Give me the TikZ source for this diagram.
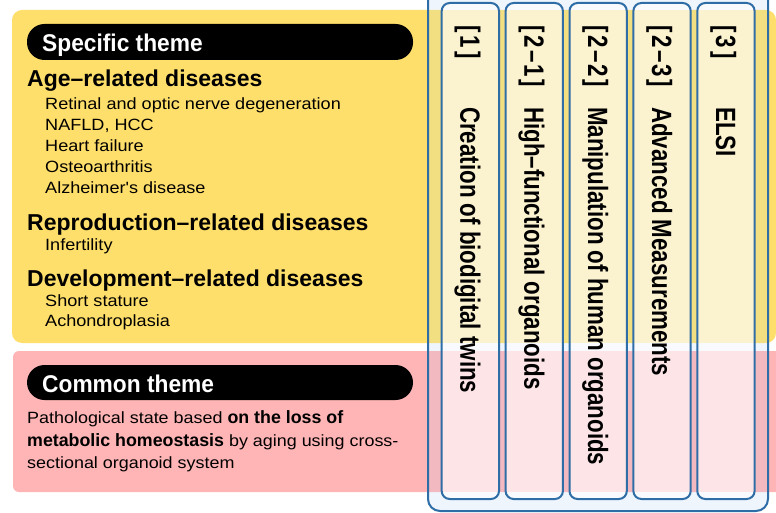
\documentclass[tikz,border=0pt]{standalone}
\usepackage{fontspec}
\setmainfont{Liberation Sans}
\usepackage{graphicx}
\definecolor{ylw}{HTML}{FFDF6B}
\definecolor{ylwm}{HTML}{F2DF82}
\definecolor{pnk}{HTML}{FFB5B5}
\definecolor{pnkm}{HTML}{F2B9C1}
\definecolor{bgb}{HTML}{EFF5FD}
\definecolor{colw}{HTML}{F8FAFE}
\definecolor{coly}{HTML}{FBF2D0}
\definecolor{colp}{HTML}{FCE4E7}
\definecolor{bl}{HTML}{2F6DA6}
\newcommand\hs[2]{\scalebox{#1}[1]{#2}}
\newcommand\vs[1]{\scalebox{1}[1.25]{#1}}
\begin{document}
\begin{tikzpicture}[x=1pt,y=-1pt,
  txt/.style={anchor=base west, inner sep=0pt, text=black},
  subtxt/.style={txt, font=\fontsize{16.3}{19}\selectfont},
  headtxt/.style={txt, font=\bfseries\fontsize{23}{27}\selectfont},
  pilltxt/.style={txt, text=white, font=\bfseries\fontsize{24.2}{28}\selectfont},
  pill/.style={fill=black, rounded corners=17.5pt, minimum width=386pt, inner sep=0pt},
  coltxt/.style={rotate=-90, anchor=base west, inner sep=0pt, text=black, font=\bfseries\fontsize{22.3}{26}\selectfont},
  colbox/.style={draw=bl, line width=2pt, rounded corners=8pt}
]
\useasboundingbox (0,0) rectangle (776,513);
% background panels
\fill[ylw, rounded corners=10pt] (12,10) rectangle (776,343);
\fill[pnk, rounded corners=6pt] (13,351) rectangle (800,492);
% outer frame
\fill[bgb, rounded corners=12pt] (428,-20) rectangle (768,511);
\begin{scope}
  \clip[rounded corners=12pt] (428,-20) rectangle (768,511);
  \fill[ylwm, rounded corners=10pt] (12,10) rectangle (776,343);
  \fill[pnkm, rounded corners=6pt] (13,351) rectangle (800,492);
\end{scope}
\draw[bl, line width=2pt, rounded corners=12pt] (428,-20) rectangle (768,511);
% columns
\foreach \i in {0,...,4}{
  \pgfmathsetmacro\xl{441.7+63.9*\i}
  \pgfmathsetmacro\xr{\xl+57.3}
  \begin{scope}
    \clip[rounded corners=8pt] (\xl,3) rectangle (\xr,499);
    \fill[colw] (\xl,0) rectangle (\xr,513);
    \fill[coly] (\xl,10) rectangle (\xr,343);
    \fill[colp] (\xl,351) rectangle (\xr,492);
  \end{scope}
  \draw[colbox] (\xl,3) rectangle (\xr,499);
}
% column labels
\node[coltxt] (t1) at (460.4,25) {\vs{[\kern3pt1\kern3pt]}};
\node[coltxt] (c1) at (460.4,107) {\vs{Creation of biodigital twins}};
\node[coltxt] (t2) at (524.3,25) {\vs{[\kern3pt2\kern2pt–\kern2pt1\kern3pt]}};
\node[coltxt] (c2) at (524.3,107) {\vs{High–functional organoids}};
\node[coltxt] (t3) at (588.2,25) {\vs{[\kern3pt2\kern2pt–\kern2pt2\kern3pt]}};
\node[coltxt] (c3) at (588.2,107) {\vs{Manipulation of human organoids}};
\node[coltxt] (t4) at (652.1,25) {\vs{[\kern3pt2\kern2pt–\kern2pt3\kern3pt]}};
\node[coltxt] (c4) at (652.1,107) {\vs{Advanced Measurements}};
\node[coltxt] (t5) at (716.0,25) {\vs{[\kern3pt3\kern3pt]}};
\node[coltxt] (c5) at (716.0,107) {\vs{ELSI}};
% specific theme
\node[pill, minimum height=36pt] (p1) at (220,42) {};
\node[pilltxt] (p1t) at (42,52) {\hs{0.94}{Specific theme}};
\node[headtxt] (h1) at (27,87) {Age–related diseases};
\node[subtxt] (s1) at (45,110) {\hs{1.11}{Retinal and optic nerve degeneration}};
\node[subtxt] (s2) at (45,130.8) {\hs{1.11}{NAFLD, HCC}};
\node[subtxt] (s3) at (45,151.6) {\hs{1.11}{Heart failure}};
\node[subtxt] (s4) at (45,172.4) {\hs{1.11}{Osteoarthritis}};
\node[subtxt] (s5) at (45,193.2) {\hs{1.11}{Alzheimer\textquotesingle s disease}};
\node[headtxt] (h2) at (27,230) {Reproduction–related diseases};
\node[subtxt] (s6) at (45,250) {\hs{1.11}{Infertility}};
\node[headtxt] (h3) at (27,286) {Development–related diseases};
\node[subtxt] (s7) at (45,306) {\hs{1.11}{Short stature}};
\node[subtxt] (s8) at (45,326) {\hs{1.11}{Achondroplasia}};
% common theme
\node[pill, minimum height=35pt] (p2) at (220,382.5) {};
\node[pilltxt] (p2t) at (42,392) {\hs{0.94}{Common theme}};
\node[subtxt] (q1) at (27,423.3) {\hs{1.1}{Pathological state based }{\bfseries\fontsize{17.8}{20}\selectfont on the loss of}};
\node[subtxt] (q2) at (27,446.7) {{\bfseries\fontsize{17.8}{20}\selectfont metabolic homeostasis}\hs{1.1}{ by aging using cross-}};
\node[subtxt] (q3) at (27,468) {\hs{1.1}{sectional organoid system}};
\end{tikzpicture}
\end{document}
